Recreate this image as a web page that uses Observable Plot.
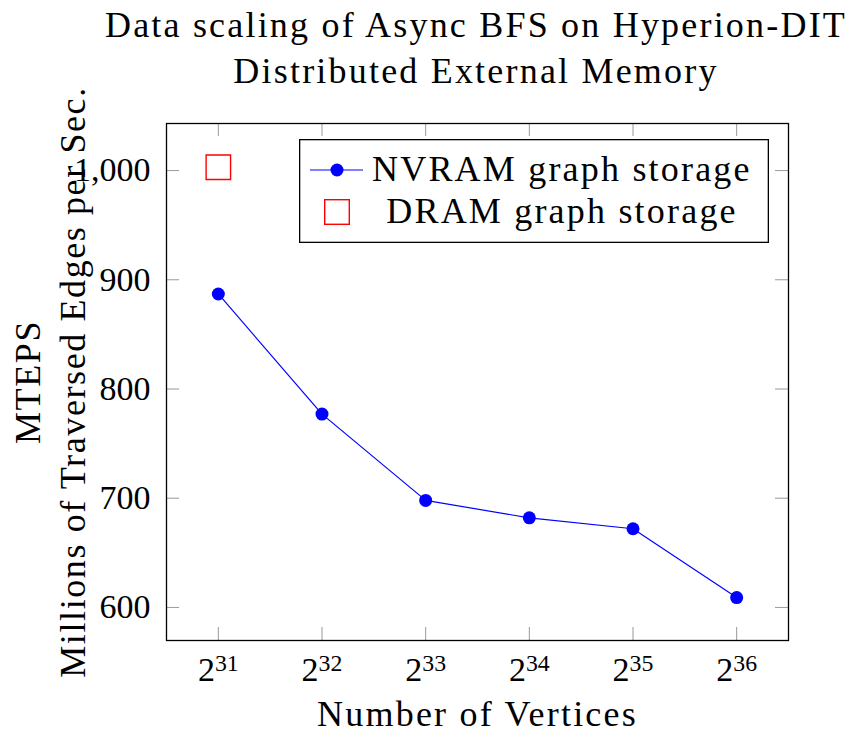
<!DOCTYPE html>
<html>
<head>
<meta charset="utf-8">
<script src="https://cdn.jsdelivr.net/npm/d3@7"></script>
<script src="https://cdn.jsdelivr.net/npm/@observablehq/plot@0.6"></script>
<style>
  html, body { margin: 0; padding: 0; background: white; }
  #wrap { position: relative; width: 850px; height: 733px; font-family: "Liberation Serif", serif; color: black; }
  #title { height: 100px; box-sizing: border-box; padding-top: 2px; padding-left: 102px; text-align: center; font-size: 36px; line-height: 46px; letter-spacing: 2.2px; white-space: nowrap; }
  #legend { position: absolute; left: 299px; top: 139px; }
</style>
</head>
<body>
<div id="wrap">
  <div id="title"></div>
  <div id="chart"></div>
  <div id="legend"></div>
</div>
<script>
const titleLines = ["Data scaling of Async BFS on Hyperion-DIT", "Distributed External Memory"];
const xExponents = [31, 32, 33, 34, 35, 36];
const nvramMteps = [887, 777, 698, 682, 672, 609];
const dramExponents = [31];
const dramMteps = [1003];
const yTickValues = [600, 700, 800, 900, 1000];
const seriesNames = ["NVRAM graph storage", "DRAM graph storage"];
const xLabel = "Number of Vertices";
const yLabelLines = ["MTEPS", "Millions of Traversed Edges per Sec."];

const titleEl = document.getElementById("title");
titleLines.forEach((l, i) => {
  if (i) titleEl.appendChild(document.createElement("br"));
  titleEl.appendChild(document.createTextNode(l));
});

const nvram = xExponents.map((e, i) => ({e, v: nvramMteps[i]}));
const dram = dramExponents.map((e, i) => ({e, v: dramMteps[i]}));

const W = 850, H = 633, mt = 23, mb = 93, ml = 166, mr = 62;
const innerH = H - mt - mb, innerW = W - ml - mr;
const tickLen = 13;
const FS = 34;   // tick label size
const LS = 36;   // label/title text size
const SPACING = "2.2px";

const plot = Plot.plot({
  width: W, height: H, marginTop: mt, marginBottom: mb, marginLeft: ml, marginRight: mr,
  x: {domain: [30.5, 36.5]},
  y: {domain: [569.7, 1043.1]},
  style: {fontFamily: "Liberation Serif, serif", fontSize: FS + "px", color: "black", background: "white", overflow: "visible"},
  marks: [
    Plot.tickX(xExponents, {x: d => d, stroke: "#999", strokeWidth: 1, insetTop: innerH - tickLen}),
    Plot.tickX(xExponents, {x: d => d, stroke: "#999", strokeWidth: 1, insetBottom: innerH - tickLen}),
    Plot.tickY(yTickValues, {y: d => d, stroke: "#999", strokeWidth: 1, insetRight: innerW - tickLen}),
    Plot.tickY(yTickValues, {y: d => d, stroke: "#999", strokeWidth: 1, insetLeft: innerW - tickLen}),
    Plot.axisX({ticks: xExponents, tickSize: 0, tickPadding: 16, label: null, tickFormat: d => String(d), fontSize: FS}),
    Plot.axisY({ticks: yTickValues, tickSize: 0, tickPadding: 16, label: null, fontSize: FS}),
    Plot.frame({stroke: "black", strokeWidth: 1.3}),
    Plot.line(nvram, {x: "e", y: "v", stroke: "#0000ff", strokeWidth: 1.2}),
    Plot.dot(nvram, {x: "e", y: "v", fill: "#0000ff", r: 6.5}),
    Plot.dot(dram, {x: "e", y: "v", symbol: "square", stroke: "#ff0000", fill: "none", strokeWidth: 1.4, r: 13.8}),
    Plot.text([yLabelLines.join("\n")], {frameAnchor: "left", textAnchor: "middle", lineAnchor: "middle", rotate: -90, dx: -118, lineHeight: 1.25, fontSize: LS, fill: "black", ariaDescription: "y-title"}),
    Plot.text([xLabel], {frameAnchor: "bottom", textAnchor: "middle", lineAnchor: "middle", dy: 74, fontSize: LS, fill: "black", ariaDescription: "x-title"})
  ]
});
document.getElementById("chart").appendChild(plot);

d3.select(plot).selectAll('g[aria-description="x-title"] text, g[aria-description="x-title"] tspan')
  .style("letter-spacing", SPACING);
d3.select(plot).selectAll('g[aria-description="y-title"] text, g[aria-description="y-title"] tspan')
  .style("letter-spacing", "1.6px");

// superscript exponents on x tick labels
d3.select(plot).selectAll('g[aria-label="x-axis tick label"] text').each(function() {
  const t = d3.select(this);
  const exp = t.text();
  t.text("2");
  t.append("tspan").attr("dy", "-0.42em").attr("font-size", "0.7em").text(exp);
});

// legend
const lg = d3.select("#legend").append("svg").attr("width", 470).attr("height", 104)
  .style("font-family", "Liberation Serif, serif").style("font-size", LS + "px").style("letter-spacing", SPACING);
lg.append("rect").attr("x", 0.65).attr("y", 0.65).attr("width", 468.7).attr("height", 102.7)
  .attr("fill", "white").attr("stroke", "black").attr("stroke-width", 1.3);
lg.append("line").attr("x1", 11).attr("x2", 64).attr("y1", 31).attr("y2", 31).attr("stroke", "#0000ff").attr("stroke-width", 1.2);
lg.append("circle").attr("cx", 38).attr("cy", 31).attr("r", 6.5).attr("fill", "#0000ff");
lg.append("rect").attr("x", 38 - 12.3).attr("y", 73 - 12.3).attr("width", 24.6).attr("height", 24.6)
  .attr("fill", "none").attr("stroke", "#ff0000").attr("stroke-width", 1.4);
lg.append("text").attr("x", 73).attr("y", 42).text(seriesNames[0]);
lg.append("text").attr("x", 263).attr("y", 84).attr("text-anchor", "middle").text(seriesNames[1]);
</script>
</body>
</html>
